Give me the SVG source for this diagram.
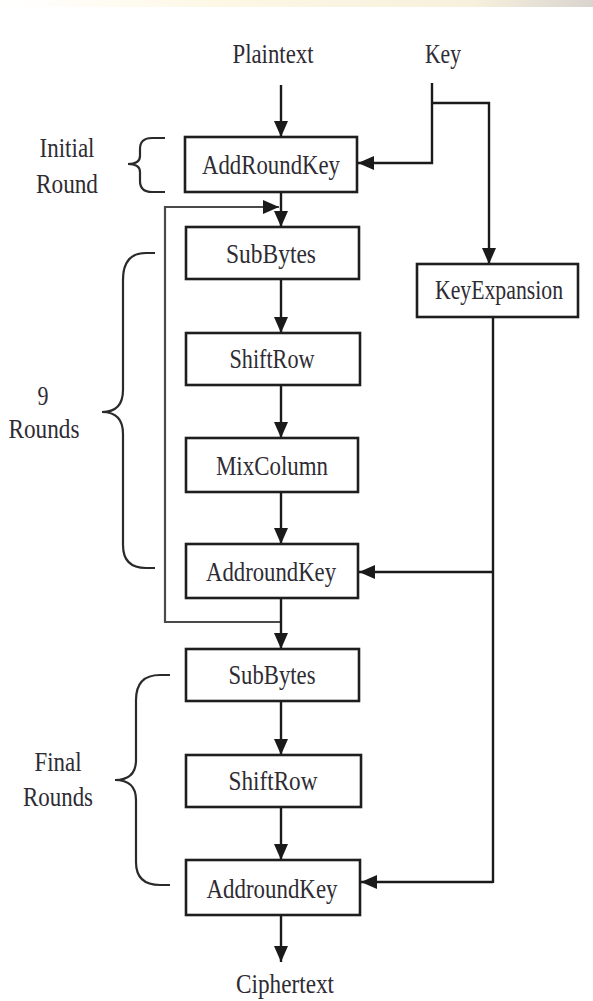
<svg xmlns="http://www.w3.org/2000/svg" width="593" height="1001" viewBox="0 0 593 1001">
<defs>
<linearGradient id="topband" x1="0" y1="0" x2="1" y2="0">
<stop offset="0" stop-color="#ffffff"/>
<stop offset="0.35" stop-color="#fdf8e6"/>
<stop offset="0.8" stop-color="#f6f0dc"/>
<stop offset="1" stop-color="#d9d4cf"/>
</linearGradient>
<marker id="ah" markerUnits="userSpaceOnUse" markerWidth="17" markerHeight="14" refX="16" refY="7" orient="auto">
<path d="M0,0 L16,7 L0,14 Z" fill="#1a1a1a"/>
</marker>
</defs>
<style>
.box{fill:#ffffff;stroke:#1e1e1e;stroke-width:2.6}
.lbl{font-family:"Liberation Serif","Times New Roman",serif;font-size:27px;fill:#2e2b33;text-anchor:middle}
.ln{fill:none;stroke:#1a1a1a;stroke-width:2.4}
.loop{fill:none;stroke:#4a4a4a;stroke-width:2.2}
.brace{fill:none;stroke:#2a2a2a;stroke-width:2.2}
</style>
<rect x="0" y="0" width="593" height="1001" fill="#ffffff"/>
<rect x="0" y="0" width="593" height="7" fill="url(#topband)"/>

<g id="labels">
<text class="lbl" x="273" y="63" textLength="81" lengthAdjust="spacingAndGlyphs">Plaintext</text>
<text class="lbl" x="443" y="63" textLength="36" lengthAdjust="spacingAndGlyphs">Key</text>
<text class="lbl" x="285" y="993" textLength="98" lengthAdjust="spacingAndGlyphs">Ciphertext</text>
</g>

<g id="brace-initial">
<path class="brace" d="M165,138 H152 Q140,138 140,149 V156 Q140,164 128,164 Q140,164 140,172 V181 Q140,192 152,192 H165"/>
<text class="lbl" x="67" y="157" textLength="55" lengthAdjust="spacingAndGlyphs">Initial</text>
<text class="lbl" x="67" y="193" textLength="62" lengthAdjust="spacingAndGlyphs">Round</text>
</g>

<g id="brace-9rounds">
<path class="brace" d="M155,253 H146 Q123,253 123,280 V390 Q123,412 102,412 Q123,412 123,434 V545 Q123,568 146,568 H155"/>
<text class="lbl" x="43" y="405" textLength="11" lengthAdjust="spacingAndGlyphs">9</text>
<text class="lbl" x="44" y="438" textLength="71" lengthAdjust="spacingAndGlyphs">Rounds</text>
</g>

<g id="brace-final">
<path class="brace" d="M170,675 H160 Q136,675 136,700 V760 Q136,780 115,780 Q136,780 136,800 V862 Q136,885 160,885 H170"/>
<text class="lbl" x="58" y="771" textLength="47" lengthAdjust="spacingAndGlyphs">Final</text>
<text class="lbl" x="58" y="806" textLength="70" lengthAdjust="spacingAndGlyphs">Rounds</text>
</g>

<g id="connectors">
<line class="ln" x1="281" y1="85" x2="281" y2="137" marker-end="url(#ah)"/>
<polyline class="ln" points="432,83 432,163 358,163" marker-end="url(#ah)"/>
<polyline class="ln" points="432,103 489,103 489,264" marker-end="url(#ah)"/>
<line class="ln" x1="281" y1="192" x2="281" y2="227" marker-end="url(#ah)"/>
<polyline class="loop" points="281,622 165,622 165,207 279,207" marker-end="url(#ah)"/>
<line class="ln" x1="281" y1="279" x2="281" y2="333" marker-end="url(#ah)"/>
<line class="ln" x1="281" y1="385" x2="281" y2="438" marker-end="url(#ah)"/>
<line class="ln" x1="281" y1="492" x2="281" y2="544" marker-end="url(#ah)"/>
<line class="ln" x1="281" y1="598" x2="281" y2="649" marker-end="url(#ah)"/>
<line class="ln" x1="281" y1="701" x2="281" y2="755" marker-end="url(#ah)"/>
<line class="ln" x1="281" y1="807" x2="281" y2="860" marker-end="url(#ah)"/>
<line class="ln" x1="281" y1="915" x2="281" y2="962" marker-end="url(#ah)"/>
<line class="ln" x1="493" y1="317" x2="493" y2="883"/>
<line class="ln" x1="493" y1="572" x2="359" y2="572" marker-end="url(#ah)"/>
<line class="ln" x1="493" y1="882" x2="361" y2="882" marker-end="url(#ah)"/>
</g>

<g id="n-addroundkey0">
<rect class="box" x="185" y="137" width="172" height="55"/>
<text class="lbl" x="271" y="174" textLength="138" lengthAdjust="spacingAndGlyphs">AddRoundKey</text>
</g>
<g id="n-keyexpansion">
<rect class="box" x="417" y="264" width="161" height="53"/>
<text class="lbl" x="499" y="299" textLength="128" lengthAdjust="spacingAndGlyphs">KeyExpansion</text>
</g>
<g id="n-subbytes1">
<rect class="box" x="186" y="227" width="173" height="52"/>
<text class="lbl" x="271" y="263" textLength="90" lengthAdjust="spacingAndGlyphs">SubBytes</text>
</g>
<g id="n-shiftrow1">
<rect class="box" x="186" y="333" width="174" height="52"/>
<text class="lbl" x="272" y="368" textLength="85" lengthAdjust="spacingAndGlyphs">ShiftRow</text>
</g>
<g id="n-mixcolumn">
<rect class="box" x="186" y="438" width="172" height="54"/>
<text class="lbl" x="272" y="475" textLength="112" lengthAdjust="spacingAndGlyphs">MixColumn</text>
</g>
<g id="n-addroundkey1">
<rect class="box" x="186" y="544" width="172" height="54"/>
<text class="lbl" x="271" y="581" textLength="130" lengthAdjust="spacingAndGlyphs">AddroundKey</text>
</g>
<g id="n-subbytes2">
<rect class="box" x="186" y="649" width="173" height="52"/>
<text class="lbl" x="272" y="684" textLength="87" lengthAdjust="spacingAndGlyphs">SubBytes</text>
</g>
<g id="n-shiftrow2">
<rect class="box" x="186" y="755" width="175" height="52"/>
<text class="lbl" x="273" y="790" textLength="89" lengthAdjust="spacingAndGlyphs">ShiftRow</text>
</g>
<g id="n-addroundkey2">
<rect class="box" x="186" y="860" width="174" height="55"/>
<text class="lbl" x="272" y="898" textLength="131" lengthAdjust="spacingAndGlyphs">AddroundKey</text>
</g>
</svg>
